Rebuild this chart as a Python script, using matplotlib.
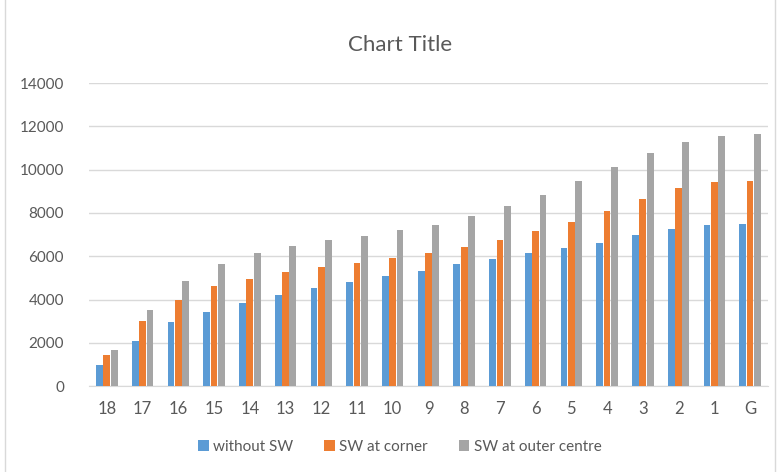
import matplotlib.pyplot as plt
from matplotlib.patches import Rectangle
import numpy as np

plt.rcParams['font.family'] = ['Lato', 'DejaVu Sans']

# floors
floors = ['18', '17', '16', '15', '14', '13', '12', '11', '10', '9',
          '8', '7', '6', '5', '4', '3', '2', '1', 'G']

without_sw = [970, 2080, 2940, 3430, 3820, 4190, 4510, 4820, 5080, 5340,
              5630, 5890, 6130, 6390, 6620, 6970, 7280, 7460, 7510]
sw_corner = [1450, 3030, 4000, 4630, 4960, 5260, 5490, 5710, 5930, 6160,
             6430, 6740, 7160, 7600, 8080, 8630, 9130, 9430, 9480]
sw_outer = [1680, 3510, 4850, 5620, 6160, 6460, 6740, 6930, 7190, 7460,
            7860, 8310, 8850, 9480, 10100, 10770, 11270, 11570, 11640]

series = [('without SW', without_sw, '#5B9BD5'),
          ('SW at corner', sw_corner, '#ED7D31'),
          ('SW at outer centre', sw_outer, '#A5A5A5')]

fig = plt.figure(figsize=(7.78, 4.72), dpi=100)
ax = fig.add_axes([0.1144, 0.182, 0.8726, 0.642])

x = np.arange(len(floors))
w = 0.19
for i, (name, vals, col) in enumerate(series):
    ax.bar(x + (i - 1) * (w + 0.015), vals, width=w, color=col, label=name, zorder=3)

ax.set_xlim(-0.5, len(floors) - 0.5)
ax.set_ylim(0, 14000)
ax.set_yticks(range(0, 14001, 2000))
ax.set_xticks(x)
ax.set_xticklabels(floors)
ax.grid(axis='y', color='#D9D9D9', linewidth=1, zorder=0)
for s in ['top', 'right', 'left']:
    ax.spines[s].set_visible(False)
ax.spines['bottom'].set_color('#D9D9D9')
ax.tick_params(axis='both', length=0, colors='#595959', labelsize=11)
ax.tick_params(axis='x', pad=11, labelsize=12)
ax.tick_params(axis='y', pad=18)

fig.text(0.514, 0.905, 'Chart Title', ha='center', va='center',
         fontsize=16, color='#595959')

fig.legend(loc='center', bbox_to_anchor=(0.514, 0.053), ncol=3, frameon=False,
           fontsize=11, handlelength=0.7, handleheight=0.7, handletextpad=0.3,
           columnspacing=2.0, labelcolor='#595959')

# chart border
fig.patches.append(Rectangle((0.006, -0.01), 0.99, 1.2, transform=fig.transFigure,
                             fill=False, edgecolor='#D9D9D9', linewidth=1))

fig.savefig('out.png', dpi=100)
